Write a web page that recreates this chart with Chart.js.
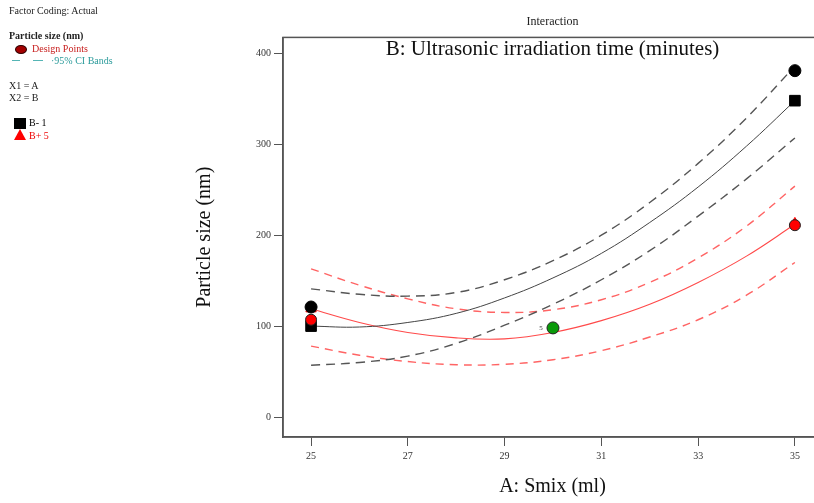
<!DOCTYPE html>
<html><head><meta charset="utf-8">
<script src="https://cdn.jsdelivr.net/npm/chart.js@4/dist/chart.umd.min.js"></script>
<style>
html,body{margin:0;padding:0;background:#fff;overflow:hidden;}
#wrap{position:relative;width:814px;height:503px;overflow:hidden;}
#c{position:absolute;left:0;top:0;}
.lg{position:absolute;font-family:'Liberation Serif',serif;font-size:10px;white-space:nowrap;line-height:10px;color:#222;}
</style></head><body>
<div id="wrap">
<canvas id="c" width="836" height="503"></canvas>
<div class="lg" style="left:9px;top:6px;">Factor Coding: Actual</div>
<div class="lg" style="left:9px;top:31px;font-weight:bold;">Particle size (nm)</div>
<div style="position:absolute;left:15px;top:45px;width:10px;height:7px;border-radius:50%;background:#a30000;border:1px solid #300;"></div>
<div class="lg" style="left:32px;top:44px;color:#c8201f;">Design Points</div>
<div style="position:absolute;left:12px;top:60px;width:8px;height:0;border-top:1.5px solid #55b5b5;"></div>
<div style="position:absolute;left:33px;top:60px;width:10px;height:0;border-top:1.5px solid #55b5b5;"></div>
<div class="lg" style="left:51px;top:56px;color:#2a9a9a;">&middot;95% CI Bands</div>
<div class="lg" style="left:9px;top:81px;">X1 = A</div>
<div class="lg" style="left:9px;top:93px;">X2 = B</div>
<div style="position:absolute;left:14px;top:118px;width:12px;height:11px;background:#000;"></div>
<div class="lg" style="left:29px;top:118px;color:#000;">B- 1</div>
<div style="position:absolute;left:14px;top:129px;width:0;height:0;border-left:6px solid transparent;border-right:6px solid transparent;border-bottom:11px solid #f00;"></div>
<div class="lg" style="left:29px;top:131px;color:#e00;">B+ 5</div>
</div>
<script>
// A: Smix (ml) grid of the model curves
const smix = [25, 26, 27, 28, 29, 30, 31, 32, 33, 34, 35];
// B- 1 (black)
const fitB1 = [100, 99, 104, 114, 131, 153, 180, 214, 253, 298, 348];
const upB1  = [141, 135, 133, 137, 151, 172, 200, 236, 279, 329, 386];
const loB1  = [57, 60, 67, 81, 101, 124, 151, 183, 221, 262, 307];
// B+ 5 (red)
const fitB5 = [119, 104, 93, 87, 86, 93, 106, 124, 148, 177, 212];
const upB5  = [163, 145, 130, 119, 115, 118, 129, 148, 175, 210, 254];
const loB5  = [78, 68, 61, 57.5, 58, 63, 73, 88, 107, 134, 170];
// end markers of the curves
const endB1A = [25, 35], endB1Y = [100, 348];
const endB5A = [25, 35], endB5Y = [119, 213];
// design points
const dpBlackA = [25, 35], dpBlackY = [121, 381];
const dpRedA = [25, 35], dpRedY = [107, 211];
const dpCenterA = [30], dpCenterY = [98], dpCenterLabel = ['5'];
// ticks
const xTicks = [25, 27, 29, 31, 33, 35];
const yTicks = [0, 100, 200, 300, 400];

const pts = (xs, ys) => xs.map((x, i) => ({x: x, y: ys[i]}));
const SERIF = "'Liberation Serif', 'Times New Roman', serif";

function curve(ys, color, width, dash, order) {
  return {data: pts(smix, ys), showLine: true, borderColor: color, borderWidth: width,
    borderDash: dash, pointRadius: 0, tension: 0.4, fill: false, order: order};
}
function marks(xs, ys, style, r, fill, stroke, order) {
  return {data: pts(xs, ys), showLine: false, pointStyle: style, pointRadius: r,
    pointBackgroundColor: fill, pointBorderColor: stroke, pointBorderWidth: 1, order: order};
}

const boxPlugin = {
  id: 'box',
  afterDraw(chart) {
    const {ctx, chartArea: a} = chart;
    ctx.save();
    ctx.strokeStyle = '#555';
    ctx.lineWidth = 1.5;
    ctx.strokeRect(a.left, a.top, a.right - a.left, a.bottom - a.top);
    ctx.fillStyle = '#111';
    ctx.font = "21px " + SERIF;
    ctx.textAlign = 'center';
    ctx.textBaseline = 'middle';
    ctx.fillText('B: Ultrasonic irradiation time (minutes)', (a.left + a.right) / 2, a.top + 12);
    // label for the center point
    const meta = chart.getDatasetMeta(chart.data.datasets.length - 1);
    ctx.font = "7px " + SERIF;
    ctx.fillStyle = '#333';
    meta.data.forEach((el, i) => {
      ctx.fillText(dpCenterLabel[i], el.x - 12, el.y);
    });
    ctx.restore();
  }
};

new Chart(document.getElementById('c'), {
  type: 'scatter',
  data: {datasets: [
    curve(upB1, '#555', 1.4, [9, 6], 10),
    curve(loB1, '#555', 1.4, [9, 6], 10),
    curve(fitB1, '#444', 1, [], 9),
    curve(upB5, '#ff6464', 1.4, [8, 6], 10),
    curve(loB5, '#ff6464', 1.4, [8, 6], 10),
    curve(fitB5, '#ff4a4a', 1.1, [], 9),
    marks(endB5A, endB5Y, 'triangle', 6, '#ff0000', '#ff0000', 5),
    marks(endB1A, endB1Y, 'rect', 7.5, '#000', '#000', 5),
    marks(dpBlackA, dpBlackY, 'circle', 6, '#000', '#000', 1),
    marks(dpRedA, dpRedY, 'circle', 5.5, '#ff0000', '#222', 1),
    marks(dpCenterA, dpCenterY, 'circle', 6, '#0a9a0a', '#222', 0)
  ]},
  options: {
    responsive: false,
    animation: false,
    devicePixelRatio: 1,
    layout: {padding: {left: 189, right: 14, top: 0, bottom: 0}},
    plugins: {
      legend: {display: false},
      tooltip: {enabled: false},
      title: {display: true, text: 'Interaction', fullSize: false, color: '#222',
        font: {family: SERIF, size: 12, weight: 'normal'}, padding: {top: 15, bottom: 8}}
    },
    scales: {
      x: {
        type: 'linear', min: 24.42, max: 35.56,
        afterBuildTicks: s => { s.ticks = xTicks.map(v => ({value: v})); },
        afterFit: s => { s.height = 66; },
        ticks: {color: '#333', font: {family: SERIF, size: 10}, padding: 4, maxRotation: 0,
          callback: v => String(v)},
        grid: {display: true, drawOnChartArea: false, drawTicks: true, tickLength: 9, color: '#555', lineWidth: 1},
        border: {display: true, color: '#555', width: 1.5},
        title: {display: true, text: 'A: Smix (ml)', color: '#111', font: {family: SERIF, size: 20}}
      },
      y: {
        type: 'linear', min: -22, max: 417.6,
        afterBuildTicks: s => { s.ticks = yTicks.map(v => ({value: v})); },
        afterFit: s => { s.width = 94; },
        ticks: {color: '#333', font: {family: SERIF, size: 10}, padding: 3,
          callback: v => String(v)},
        grid: {display: true, drawOnChartArea: false, drawTicks: true, tickLength: 9, color: '#555', lineWidth: 1},
        border: {display: true, color: '#555', width: 1.5},
        title: {display: true, text: 'Particle size (nm)', color: '#111', font: {family: SERIF, size: 20}}
      }
    }
  },
  plugins: [boxPlugin]
});
</script>
</body></html>
